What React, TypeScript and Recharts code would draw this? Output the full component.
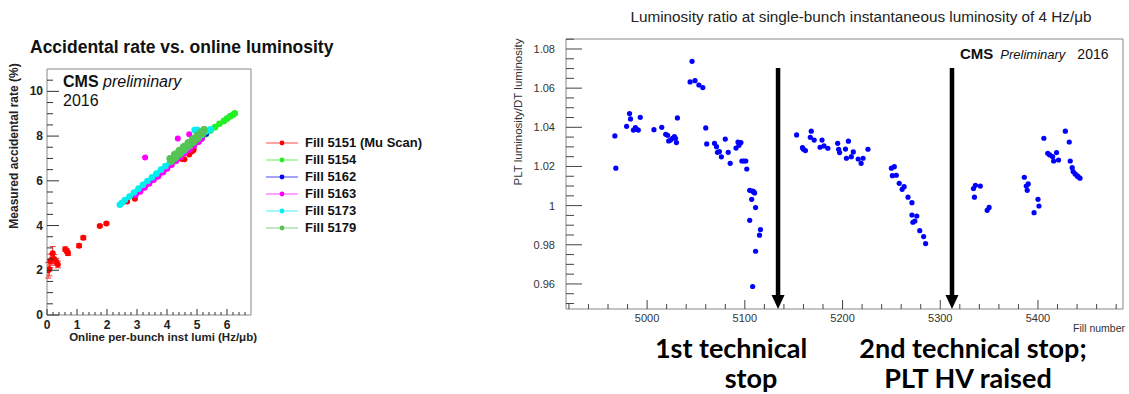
import React from 'react'
import {
  ScatterChart,
  Scatter,
  XAxis,
  YAxis,
  ReferenceArea,
  ReferenceLine,
  ReferenceDot,
  ErrorBar,
} from 'recharts'

const FONT = '"Liberation Sans", Arial, Helvetica, sans-serif'

// ---------- left panel: accidental rate vs. online per-bunch lumi ----------
const RUN_NAMES = ['Fill 5151 (Mu Scan)', 'Fill 5154', 'Fill 5162', 'Fill 5163', 'Fill 5173', 'Fill 5179']
const RUN_COLORS = ['#ff0000', '#22f022', '#0000ff', '#ff00ff', '#00f0f0', '#55c455']

const fill5151 = [
  { x: 0.04, y: 2.0, err: 0.35 }, { x: 0.08, y: 2.05, err: 0.3 }, { x: 0.11, y: 2.42, err: 0.3 },
  { x: 0.16, y: 2.48, err: 0.25 }, { x: 0.19, y: 2.76, err: 0.3 }, { x: 0.24, y: 2.5, err: 0.2 },
  { x: 0.31, y: 2.38, err: 0.15 }, { x: 0.36, y: 2.26, err: 0.15 }, { x: 0.61, y: 2.94, err: 0.1 },
  { x: 0.66, y: 2.86, err: 0.1 }, { x: 0.7, y: 2.76, err: 0.1 }, { x: 1.07, y: 3.1, err: 0.08 },
  { x: 1.21, y: 3.45, err: 0.08 }, { x: 1.76, y: 3.98, err: 0.05 }, { x: 1.98, y: 4.09, err: 0.05 },
  { x: 2.67, y: 5.07, err: 0 }, { x: 2.93, y: 5.2, err: 0 }, { x: 3.66, y: 6.26, err: 0 },
  { x: 3.88, y: 6.4, err: 0 }, { x: 4.41, y: 7.02, err: 0 }, { x: 4.5, y: 6.98, err: 0 },
  { x: 4.58, y: 6.96, err: 0 }, { x: 4.74, y: 7.18, err: 0 }, { x: 4.8, y: 7.3, err: 0 },
  { x: 4.86, y: 7.34, err: 0 }, { x: 4.89, y: 7.4, err: 0 },
]
const fill5154 = [
  { x: 3.95, y: 6.58 }, { x: 4.1, y: 6.75 }, { x: 4.25, y: 6.93 }, { x: 4.4, y: 7.1 }, { x: 4.55, y: 7.25 },
  { x: 4.7, y: 7.42 }, { x: 4.85, y: 7.6 }, { x: 5.0, y: 7.75 }, { x: 5.15, y: 7.92 }, { x: 5.3, y: 8.08 },
  { x: 5.45, y: 8.25 }, { x: 5.6, y: 8.4 }, { x: 5.75, y: 8.55 }, { x: 5.9, y: 8.68 }, { x: 6.0, y: 8.78 },
  { x: 6.1, y: 8.88 }, { x: 6.2, y: 8.95 }, { x: 6.26, y: 9.02 },
]
const fill5162 = [
  { x: 4.6, y: 7.3 }, { x: 4.8, y: 7.52 }, { x: 5.0, y: 7.75 }, { x: 5.15, y: 7.93 }, { x: 5.29, y: 8.12 },
]
const fill5163 = [
  { x: 2.95, y: 5.38 }, { x: 3.1, y: 5.52 }, { x: 3.25, y: 5.7 }, { x: 3.4, y: 5.88 }, { x: 3.55, y: 6.05 },
  { x: 3.7, y: 6.2 }, { x: 3.85, y: 6.38 }, { x: 4.0, y: 6.55 }, { x: 4.15, y: 6.72 }, { x: 4.3, y: 6.9 },
  { x: 4.45, y: 7.07 }, { x: 4.6, y: 7.24 }, { x: 4.75, y: 7.4 }, { x: 4.9, y: 7.58 }, { x: 5.05, y: 7.75 },
  { x: 5.15, y: 7.88 },
]
const fill5163Outliers = [{ x: 3.27, y: 7.04 }, { x: 4.36, y: 7.89 }, { x: 4.74, y: 8.08 }]
const fill5173 = [
  { x: 2.43, y: 4.93 }, { x: 2.5, y: 5.02 }, { x: 2.6, y: 5.14 }, { x: 2.75, y: 5.3 }, { x: 2.9, y: 5.48 },
  { x: 3.05, y: 5.65 }, { x: 3.2, y: 5.82 }, { x: 3.35, y: 5.99 }, { x: 3.5, y: 6.16 }, { x: 3.65, y: 6.32 },
  { x: 3.8, y: 6.5 }, { x: 3.95, y: 6.66 }, { x: 4.1, y: 6.84 }, { x: 4.25, y: 7.0 }, { x: 4.4, y: 7.18 },
  { x: 4.55, y: 7.35 }, { x: 4.7, y: 7.52 }, { x: 4.85, y: 7.7 }, { x: 5.0, y: 7.88 }, { x: 5.15, y: 8.05 },
  { x: 5.3, y: 8.2 }, { x: 5.45, y: 8.3 },
]
const fill5173Blob = [{ x: 4.92, y: 8.27 }, { x: 5.0, y: 8.28 }, { x: 5.05, y: 8.24 }]
const fill5179 = [
  { x: 4.1, y: 7.0 }, { x: 4.15, y: 6.88 }, { x: 4.25, y: 7.18 }, { x: 4.3, y: 7.05 }, { x: 4.4, y: 7.35 },
  { x: 4.45, y: 7.22 }, { x: 4.55, y: 7.52 }, { x: 4.6, y: 7.4 }, { x: 4.7, y: 7.7 }, { x: 4.75, y: 7.57 },
  { x: 4.85, y: 7.87 }, { x: 4.9, y: 7.75 }, { x: 5.0, y: 8.04 }, { x: 5.05, y: 7.92 }, { x: 5.12, y: 8.18 },
  { x: 5.2, y: 8.1 }, { x: 5.24, y: 8.3 },
]

const LEFT_X_TICKS = [
  0, 0.2, 0.4, 0.6, 0.8, 1, 1.2, 1.4, 1.6, 1.8, 2, 2.2, 2.4, 2.6, 2.8, 3, 3.2, 3.4, 3.6, 3.8,
  4, 4.2, 4.4, 4.6, 4.8, 5, 5.2, 5.4, 5.6, 5.8, 6, 6.2, 6.4, 6.6,
]
const LEFT_Y_TICKS = [0, 0.5, 1, 1.5, 2, 2.5, 3, 3.5, 4, 4.5, 5, 5.5, 6, 6.5, 7, 7.5, 8, 8.5, 9, 9.5, 10, 10.5]

// ---------- right panel: PLT / DT lumi ratio vs fill ----------
const PLT_FILLS = [
  4967, 4968, 4979, 4982, 4983, 4986, 4988, 4989, 4991, 4993, 5007, 5015, 5019, 5021, 5022, 5024, 5026, 5028,
  5029, 5030, 5031, 5044, 5046, 5049, 5053, 5057, 5060, 5061, 5069, 5071, 5072, 5074, 5076, 5080, 5083, 5085,
  5091, 5093, 5094, 5096, 5097, 5099, 5101, 5102, 5105, 5105, 5107, 5108, 5108, 5109, 5110, 5111, 5111, 5115,
  5116,
  5153, 5159, 5160, 5162, 5167, 5168, 5171, 5177, 5179, 5181, 5185, 5195, 5196, 5197, 5203, 5204, 5206, 5209,
  5211, 5216, 5219, 5221, 5226, 5250, 5253, 5251, 5255, 5258, 5261, 5263, 5267, 5271, 5271, 5276, 5272, 5274,
  5279, 5283, 5285,
  5334, 5336, 5341, 5335, 5348, 5350, 5386, 5388, 5390, 5389, 5396, 5400, 5401, 5406, 5410, 5412, 5415, 5416,
  5419, 5421, 5428, 5432, 5433, 5435, 5436, 5438, 5440, 5441, 5443,
]
const PLT_RATIOS = [
  1.0356, 1.0191, 1.0405, 1.047, 1.0443, 1.0386, 1.0398, 1.0391, 1.0386, 1.0451, 1.0388, 1.04, 1.0364, 1.0359,
  1.033, 1.0335, 1.0344, 1.0352, 1.0344, 1.0322, 1.0448, 1.0632, 1.0737, 1.0638, 1.0616, 1.0603, 1.0397, 1.0315,
  1.0318, 1.0301, 1.0272, 1.0276, 1.0249, 1.034, 1.0272, 1.0216, 1.0294, 1.0325, 1.0308, 1.0322, 1.0228, 1.0228,
  1.0228, 1.0187, 1.0078, 0.9925, 1.0032, 1.0074, 0.9587, 1.0071, 1.0065, 0.999, 0.9767, 0.9849, 0.9878,
  1.0361, 1.0296, 1.0288, 1.0281, 1.0349, 1.038, 1.0335, 1.0298, 1.0335, 1.0305, 1.0293, 1.0318, 1.0288, 1.0271,
  1.0289, 1.0242, 1.0329, 1.025, 1.0274, 1.0238, 1.0216, 1.0242, 1.0288, 1.0191, 1.0199, 1.0153, 1.0155, 1.0114,
  1.0083, 1.0097, 1.0043, 1.0015, 0.9952, 0.9947, 0.9915, 0.9921, 0.9872, 0.9842, 0.9806,
  1.0087, 1.0104, 1.01, 1.0043, 0.9976, 0.9991, 1.0145, 1.01, 1.0111, 1.0078, 0.9964, 1.0032, 0.9998, 1.0344,
  1.0267, 1.0259, 1.025, 1.0228, 1.0271, 1.0233, 1.038, 1.0325, 1.0228, 1.0194, 1.0174, 1.0162, 1.0153, 1.0148,
  1.014,
]
const STOP_FILLS = [5134, 5312]

const RIGHT_X_TICKS = [
  4920, 4940, 4960, 4980, 5000, 5020, 5040, 5060, 5080, 5100, 5120, 5140, 5160, 5180, 5200, 5220, 5240, 5260,
  5280, 5300, 5320, 5340, 5360, 5380, 5400, 5420, 5440, 5460, 5480,
]
const RIGHT_Y_TICKS = [
  0.95, 0.955, 0.96, 0.965, 0.97, 0.975, 0.98, 0.985, 0.99, 0.995, 1, 1.005, 1.01, 1.015, 1.02, 1.025, 1.03,
  1.035, 1.04, 1.045, 1.05, 1.055, 1.06, 1.065, 1.07, 1.075, 1.08, 1.085,
]

const pltPoints = PLT_FILLS.map((fill, i) => ({ fill, ratio: PLT_RATIOS[i] }))

// ROOT style ticks: drawn inside the frame, labels outside
const leftYTick = (props: any) => {
  const { x, y, payload } = props
  const v = payload.value
  const major = v % 2 === 0
  return (
    <g>
      <line x1={x} x2={x + (major ? 12 : 6)} y1={y} y2={y} stroke="#333" />
      {major && (
        <text x={x - 4} y={y + 4} textAnchor="end" fontSize={12} fontWeight="bold" fill="#222" fontFamily={FONT}>
          {v}
        </text>
      )}
    </g>
  )
}
const leftXTick = (props: any) => {
  const { x, y, payload } = props
  const v = payload.value
  const major = Number.isInteger(v)
  return (
    <g>
      <line x1={x} x2={x} y1={y} y2={y - (major ? 6 : 3)} stroke="#333" />
      {major && (
        <text x={x} y={y + 14} textAnchor="middle" fontSize={12} fontWeight="bold" fill="#222" fontFamily={FONT}>
          {v}
        </text>
      )}
    </g>
  )
}
const rightYTick = (props: any) => {
  const { x, y, payload } = props
  const v = payload.value
  const major = Math.round(v * 1000) % 20 === 0
  return (
    <g>
      <line x1={x} x2={x + (major ? 16 : 8)} y1={y} y2={y} stroke="#444" />
      {major && (
        <text x={x - 11} y={y + 4} textAnchor="end" fontSize={11} fill="#333" fontFamily={FONT}>
          {v === 1 ? '1' : v.toFixed(2)}
        </text>
      )}
    </g>
  )
}
const rightXTick = (props: any) => {
  const { x, y, payload } = props
  const v = payload.value
  const major = v % 100 === 0
  return (
    <g>
      <line x1={x} x2={x} y1={y} y2={y - (major ? 9 : 5)} stroke="#444" />
      {major && (
        <text x={x} y={y + 13} textAnchor="middle" fontSize={11} fill="#333" fontFamily={FONT}>
          {v}
        </text>
      )}
    </g>
  )
}

const dot = (color: string, r: number) => (p: any) => <circle cx={p.cx} cy={p.cy} r={r} fill={color} />

const arrowHead = (p: any) => (
  <polygon points={`${p.cx - 6.5},${p.cy - 14} ${p.cx + 6.5},${p.cy - 14} ${p.cx},${p.cy}`} fill="#000" />
)

const abs = (left: number, top: number, extra: React.CSSProperties = {}): React.CSSProperties => ({
  position: 'absolute',
  left,
  top,
  whiteSpace: 'nowrap',
  ...extra,
})

export default function App() {
  const leftSeries = [fill5151, fill5154, fill5162, fill5163, fill5173, fill5179]

  return (
    <div style={{ position: 'absolute', left: 0, top: 0, width: 1129, height: 394, background: '#fff', fontFamily: FONT, overflow: 'hidden' }}>
      {/* left panel */}
      <div style={abs(30, 37, { fontSize: 17.5, fontWeight: 'bold', color: '#111' })}>
        Accidental rate vs. online luminosity
      </div>
      <div style={{ position: 'absolute', left: 0, top: 0 }}>
        <ScatterChart width={440} height={345} margin={{ top: 69, right: 189, bottom: 29, left: 46 }}>
          <XAxis type="number" dataKey="x" domain={[0, 6.8]} ticks={LEFT_X_TICKS} interval={0} height={1}
            tickSize={0} tickMargin={0} axisLine={false} tickLine={false} tick={leftXTick} allowDataOverflow />
          <YAxis type="number" dataKey="y" domain={[0, 11]} ticks={LEFT_Y_TICKS} interval={0} width={1}
            tickSize={0} tickMargin={0} axisLine={false} tickLine={false} tick={leftYTick} allowDataOverflow />
          <ReferenceArea x1={0} x2={6.8} y1={0} y2={11} fill="none" stroke="#888" strokeWidth={1} />
          <Scatter name={RUN_NAMES[0]} data={leftSeries[0]} shape={dot(RUN_COLORS[0], 3)} isAnimationActive={false}>
            <ErrorBar dataKey="err" direction="y" stroke="#ff3030" width={3} strokeWidth={1} />
          </Scatter>
          {[1, 2, 3, 4, 5].map(i => (
            <Scatter key={i} name={RUN_NAMES[i]} data={leftSeries[i]} shape={dot(RUN_COLORS[i], 3.3)}
              line={{ stroke: RUN_COLORS[i], strokeWidth: 4 }} lineType="joint" isAnimationActive={false} />
          ))}
          <Scatter data={fill5163Outliers} shape={dot(RUN_COLORS[3], 3)} isAnimationActive={false} />
          <Scatter data={fill5173Blob} shape={dot(RUN_COLORS[4], 3.3)} isAnimationActive={false} />
          <Scatter data={fill5179} shape={dot(RUN_COLORS[5], 3.5)} isAnimationActive={false} />
        </ScatterChart>
      </div>
      <div style={abs(63, 73, { fontSize: 16, color: '#111' })}>
        <b>CMS</b> <i>preliminary</i>
      </div>
      <div style={abs(63, 92, { fontSize: 16, color: '#111' })}>2016</div>
      <div style={abs(14, 146, { transform: 'translate(-50%, -50%) rotate(-90deg)', fontSize: 12, fontWeight: 'bold', color: '#222' })}>
        Measured accidental rate (%)
      </div>
      <div style={abs(257, 337, { transform: 'translate(-100%, -50%)', fontSize: 11.5, fontWeight: 'bold', color: '#222' })}>
        Online per-bunch inst lumi (Hz/μb)
      </div>
      {/* legend */}
      <div style={abs(265, 134)}>
        {RUN_NAMES.map((name, i) => (
          <div key={name} style={{ display: 'flex', alignItems: 'center', height: 17 }}>
            <svg width={34} height={10} style={{ marginRight: 6 }}>
              <line x1={1} x2={33} y1={5} y2={5} stroke={RUN_COLORS[i]} strokeOpacity={0.6} strokeWidth={1.2} />
              <circle cx={17} cy={5} r={2.4} fill={RUN_COLORS[i]} />
            </svg>
            <span style={{ fontSize: 13, fontWeight: 'bold', color: '#111' }}>{name}</span>
          </div>
        ))}
      </div>

      {/* right panel */}
      <div style={abs(861, 17, { transform: 'translate(-50%, -50%)', fontSize: 15.3, color: '#222' })}>
        Luminosity ratio at single-bunch instantaneous luminosity of 4 Hz/μb
      </div>
      <div style={{ position: 'absolute', left: 480, top: 0 }}>
        <ScatterChart width={649} height={340} margin={{ top: 39, right: 6, bottom: 30, left: 85 }}>
          <XAxis type="number" dataKey="fill" domain={[4917, 5487]} ticks={RIGHT_X_TICKS} interval={0} height={1}
            tickSize={0} tickMargin={0} axisLine={false} tickLine={false} tick={rightXTick} allowDataOverflow />
          <YAxis type="number" dataKey="ratio" domain={[0.9472, 1.0851]} ticks={RIGHT_Y_TICKS} interval={0} width={1}
            tickSize={0} tickMargin={0} axisLine={false} tickLine={false} tick={rightYTick} allowDataOverflow />
          <ReferenceArea x1={4917} x2={5487} y1={0.9472} y2={1.0851} fill="none" stroke="#888" strokeWidth={1} />
          <Scatter data={pltPoints} shape={dot('#0000ff', 2.6)} isAnimationActive={false} />
          {STOP_FILLS.map(f => (
            <ReferenceLine key={`l${f}`} segment={[{ x: f, y: 1.0703 }, { x: f, y: 0.953 }]} stroke="#000" strokeWidth={4.5} />
          ))}
          {STOP_FILLS.map(f => (
            <ReferenceDot key={`d${f}`} x={f} y={0.9472} shape={arrowHead} />
          ))}
        </ScatterChart>
      </div>
      <div style={abs(518, 112, { transform: 'translate(-50%, -50%) rotate(-90deg)', fontSize: 11.5, color: '#333' })}>
        PLT luminosity/DT luminosity
      </div>
      <div style={abs(1125, 328, { transform: 'translate(-100%, -50%)', fontSize: 10.5, color: '#333' })}>
        Fill number
      </div>
      <div style={abs(960, 45, { fontSize: 15, color: '#111' })}>
        <b>CMS</b>
        <i style={{ fontSize: 13, marginLeft: 7 }}>Preliminary</i>
        <span style={{ fontSize: 14, marginLeft: 12 }}>2016</span>
      </div>

      {/* annotations below the axis */}
      <div style={{ position: 'absolute', left: 0, top: 0, fontFamily: 'Lato, "Open Sans", sans-serif', fontWeight: 'bold', fontSize: 27, lineHeight: '28px', color: '#000' }}>
        <div style={abs(731, 348, { transform: 'translate(-50%, -50%)' })}>1st technical</div>
        <div style={abs(751, 378, { transform: 'translate(-50%, -50%)' })}>stop</div>
        <div style={abs(973, 348, { transform: 'translate(-50%, -50%)' })}>2nd technical stop;</div>
        <div style={abs(968, 378, { transform: 'translate(-50%, -50%)' })}>PLT HV raised</div>
      </div>
    </div>
  )
}
